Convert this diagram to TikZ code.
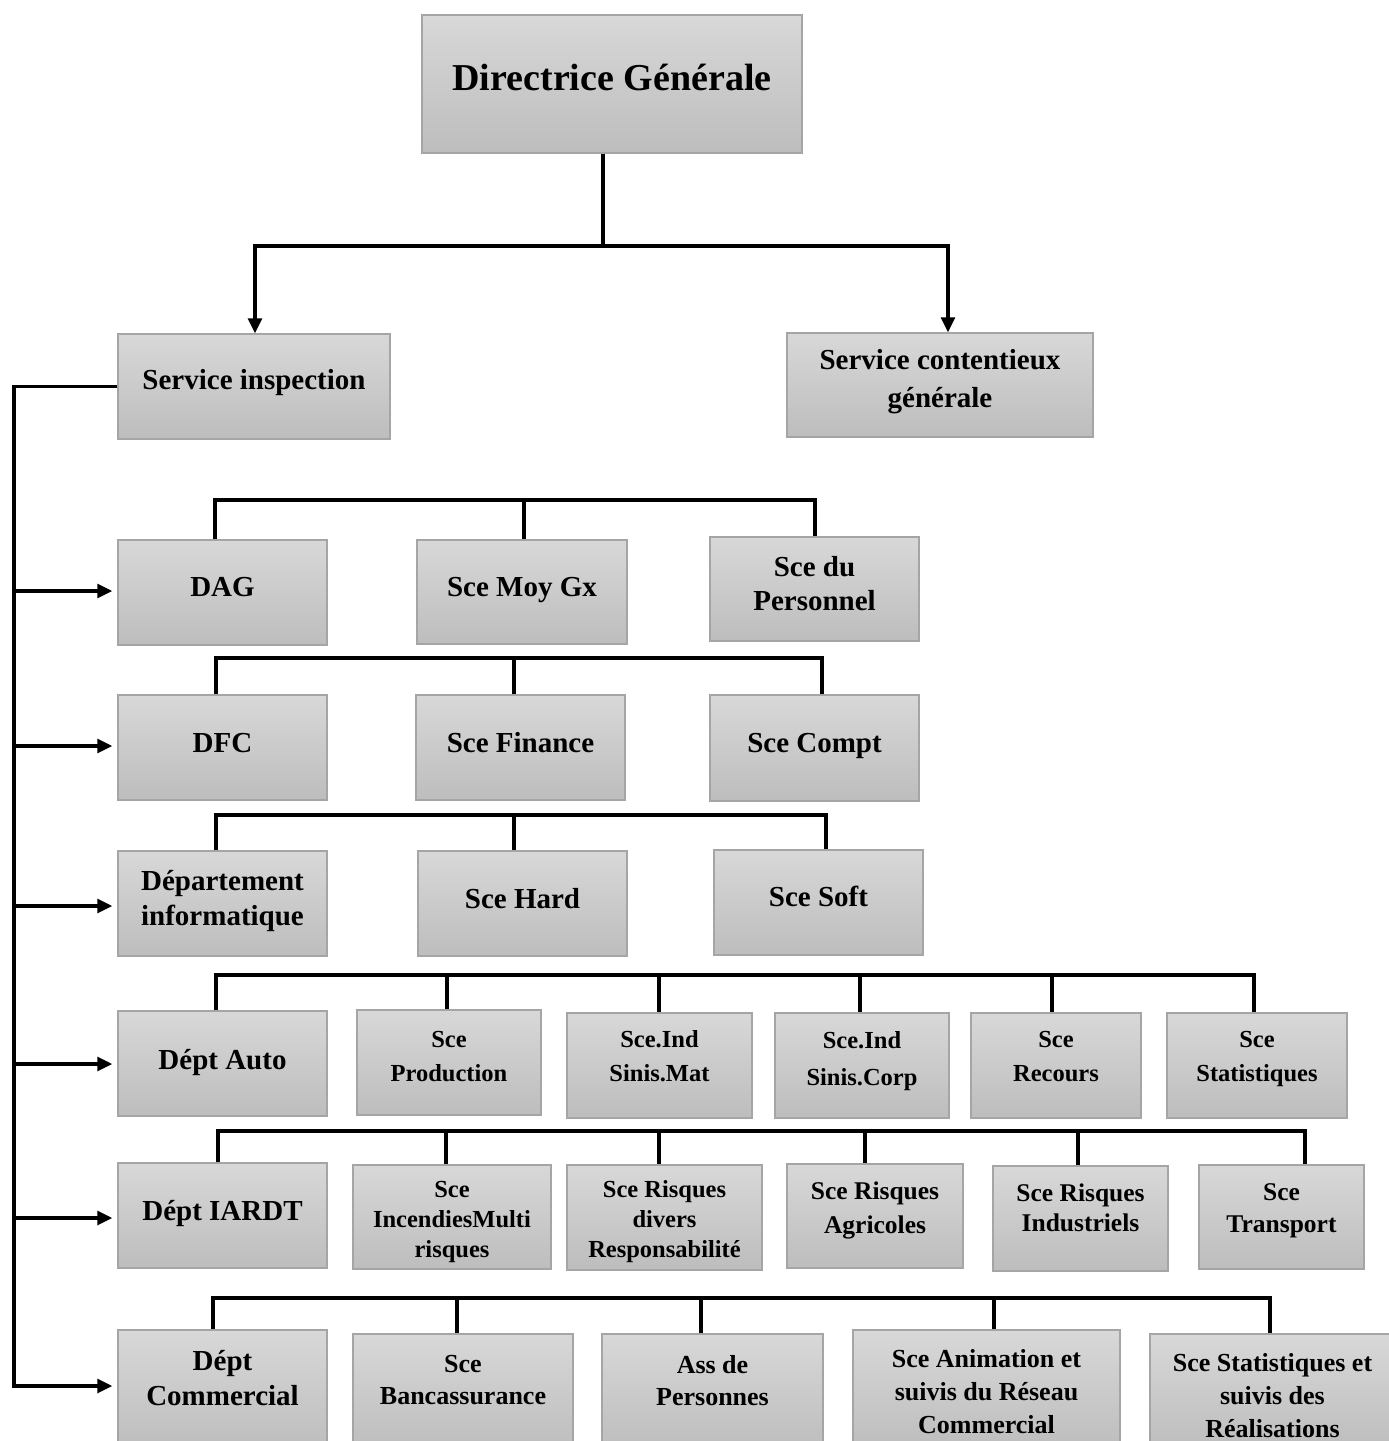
\documentclass[tikz,border=0pt]{standalone}
\usepackage{fontspec}
\setmainfont{Liberation Serif}
\usetikzlibrary{arrows.meta}

\definecolor{boxtop}{RGB}{216,216,216}
\definecolor{boxbot}{RGB}{189,189,189}
\definecolor{boxline}{RGB}{165,165,165}

% invisible strut so every line of a box text has the same height and depth
\newcommand\lnh{\vphantom{Ép}}

\tikzset{
  orgbox/.style={rectangle, draw=boxline, line width=1.5pt,
                 top color=boxtop, bottom color=boxbot, inner sep=0pt},
  boxtext/.style={inner sep=0pt, align=center, yshift=-3pt,
                  execute at begin node=\lnh, execute at end node=\lnh},
  link/.style={line width=3.6pt, line join=miter},
  feed/.style={line width=3.2pt, line join=miter,
               -{Triangle[length=15pt,width=14pt]}},
}

% #1 name, #2..#5 corners (x1,y1,x2,y2), #6 text centre y, #7 {size}{skip}, #8 text
\newcommand\orgunit[8]{%
  \node[orgbox, minimum width={#4-#2}, minimum height={#5-#3}]
       (#1) at ({(#2+#4)/2},{(#3+#5)/2}) {};
  \node[boxtext, font=\bfseries\fontsize#7\selectfont]
       (#1-t) at ({(#2+#4)/2},#6) {#8};}

% vertical drop from a bus (#2) down to box #1 at abscissa #3
\newcommand\drop[3]{\draw[link] (#2 -| #3,0) -- (#1.north -| #3,0);}

\begin{document}
\begin{tikzpicture}[x=1pt,y=-1pt]
\useasboundingbox (0,0) rectangle (1389,1441);
\fill[white] (0,0) rectangle (1389,1441);
\clip (0,0) rectangle (1389,1441);

% ---- top of the organisation
\orgunit{dg}{422}{15}{802}{153}{75}{{38}{44}}{Directrice Générale}
\orgunit{si}{118}{334}{390}{439}{377}{{29}{36}}{Service inspection}
\orgunit{sc}{787}{333}{1093}{437}{379}{{29}{38}}{Service contentieux\\générale}

\coordinate (j0) at (603,246);
\coordinate (j0L) at (255,246);
\coordinate (j0R) at (948,246);
\draw[link] (j0 |- dg.south) -- (j0);
\draw[feed] (j0) -| (j0L |- si.north);
\draw[feed] (j0) -| (j0R |- sc.north);

% ---- administration
\orgunit{dag}{118}{540}{327}{645}{584}{{29}{34}}{DAG}
\orgunit{moy}{417}{540}{627}{644}{584}{{29}{34}}{Sce Moy Gx}
\orgunit{per}{710}{537}{919}{641}{584}{{29}{34}}{Sce du\\Personnel}

% ---- finance
\orgunit{dfc}{118}{695}{327}{800}{740}{{29}{34}}{DFC}
\orgunit{fin}{416}{695}{625}{800}{740}{{29}{34}}{Sce Finance}
\orgunit{cpt}{710}{695}{919}{801}{740}{{29}{34}}{Sce Compt}

% ---- computing
\orgunit{dinf}{118}{851}{327}{956}{898}{{29}{35}}{Département\\informatique}
\orgunit{hard}{418}{851}{627}{956}{896}{{29}{34}}{Sce Hard}
\orgunit{soft}{714}{850}{923}{955}{894}{{29}{34}}{Sce Soft}

% ---- motor insurance
\orgunit{dauto}{118}{1011}{327}{1116}{1057}{{29}{34}}{Dépt Auto}
\orgunit{prod}{357}{1010}{541}{1115}{1056}{{24.5}{34}}{Sce\\Production}
\orgunit{mat}{567}{1013}{752}{1118}{1056}{{24.5}{34}}{Sce.Ind\\Sinis.Mat}
\orgunit{corp}{775}{1013}{949}{1118}{1058}{{24.5}{37}}{Sce.Ind\\Sinis.Corp}
\orgunit{rec}{971}{1013}{1141}{1118}{1056}{{24.5}{34}}{Sce\\Recours}
\orgunit{sta}{1167}{1013}{1347}{1118}{1056}{{24.5}{34}}{Sce\\Statistiques}

% ---- IARDT
\orgunit{iardt}{118}{1163}{327}{1268}{1208}{{29}{34}}{Dépt IARDT}
\orgunit{inc}{353}{1165}{551}{1269}{1219}{{24.5}{30}}{Sce\\IncendiesMulti\\risques}
\orgunit{div}{567}{1165}{762}{1270}{1219}{{24.5}{30}}{Sce Risques\\divers\\Responsabilité}
\orgunit{agr}{787}{1164}{963}{1268}{1207}{{25.5}{34}}{Sce Risques\\Agricoles}
\orgunit{ind}{993}{1166}{1168}{1271}{1207}{{25.5}{30}}{Sce Risques\\Industriels}
\orgunit{tra}{1199}{1165}{1364}{1269}{1208}{{25.5}{32}}{Sce\\Transport}

% ---- commercial
\orgunit{dcom}{118}{1330}{327}{1450}{1378}{{29}{35}}{Dépt\\Commercial}
\orgunit{ban}{353}{1334}{573}{1450}{1380}{{26}{32}}{Sce\\Bancassurance}
\orgunit{ass}{602}{1334}{823}{1450}{1380}{{26}{32}}{Ass de\\Personnes}
\orgunit{ani}{853}{1330}{1120}{1450}{1391}{{26}{33}}{Sce Animation et\\suivis du Réseau\\Commercial}
\orgunit{ssr}{1150}{1334}{1395}{1450}{1395}{{26}{33}}{Sce Statistiques et\\suivis des\\Réalisations}

% ---- buses over each row
\coordinate (b1L) at (215,500);  \coordinate (b1R) at (815,500);
\draw[link] (b1L |- dag.north) -- (b1L) -- (b1R) -- (b1R |- per.north);
\drop{moy}{b1L}{524}

\coordinate (b2L) at (216,658);  \coordinate (b2R) at (822,658);
\draw[link] (b2L |- dfc.north) -- (b2L) -- (b2R) -- (b2R |- cpt.north);
\drop{fin}{b2L}{514}

\coordinate (b3L) at (216,815);  \coordinate (b3R) at (826,815);
\draw[link] (b3L |- dinf.north) -- (b3L) -- (b3R) -- (b3R |- soft.north);
\drop{hard}{b3L}{514}

\coordinate (b4L) at (216,975);  \coordinate (b4R) at (1254,975);
\draw[link] (b4L |- dauto.north) -- (b4L) -- (b4R) -- (b4R |- sta.north);
\drop{prod}{b4L}{447}
\drop{mat}{b4L}{659}
\drop{corp}{b4L}{860}
\drop{rec}{b4L}{1052}

\coordinate (b5L) at (218,1131); \coordinate (b5R) at (1305,1131);
\draw[link] (b5L |- iardt.north) -- (b5L) -- (b5R) -- (b5R |- tra.north);
\drop{inc}{b5L}{446}
\drop{div}{b5L}{659}
\drop{agr}{b5L}{865}
\drop{ind}{b5L}{1078}

\coordinate (b6L) at (213,1298); \coordinate (b6R) at (1270,1298);
\draw[link] (b6L |- dcom.north) -- (b6L) -- (b6R) -- (b6R |- ssr.north);
\drop{ban}{b6L}{457}
\drop{ass}{b6L}{701}
\drop{ani}{b6L}{994}

% ---- inspection spine feeding every department
\coordinate (sp) at (14,0);
\draw[feed, shorten >=5pt] (si.west) -- (si.west -| sp) -- (sp |- 0,1386) -- (dcom.west |- 0,1386);
\foreach \d/\y in {dag/591, dfc/746, dinf/906, dauto/1064, iardt/1218}
  \draw[feed, shorten >=5pt] (sp |- 0,\y) -- (\d.west |- 0,\y);
\end{tikzpicture}
\end{document}
